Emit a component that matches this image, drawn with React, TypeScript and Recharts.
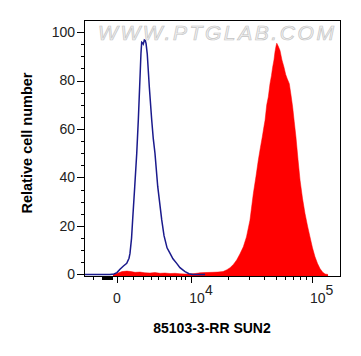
import React from "react";
import {
  ComposedChart,
  Area,
  Line,
  XAxis,
  YAxis,
  ReferenceArea,
  Label,
} from "recharts";

// x is in display units (biexponential-ish: 10^4 -> 4, 10^5 -> 5)
const xDomain = [3.111, 5.232];
const yDomain = [-0.62, 104.95];

// isotype control (blue outline)
const controlX = [
  3.111, 3.326, 3.36, 3.384, 3.409, 3.438, 3.465, 3.484, 3.492, 3.505, 3.514,
  3.531, 3.548, 3.561, 3.572, 3.583, 3.589, 3.596, 3.602, 3.611, 3.619, 3.625,
  3.635, 3.652, 3.672, 3.685, 3.699, 3.722, 3.755, 3.774, 3.799, 3.824, 3.848,
  3.879, 3.906, 3.948, 3.981, 4.014, 4.114,
];
const controlY = [
  0, 0, 0.2, 0.8, 2.2, 3.5, 4.6, 6.7, 8.7, 15, 22.5, 36, 50, 63.7, 77.4, 91.2,
  95.8, 95.5, 95, 96.7, 96.4, 95.3, 91, 77.4, 63.7, 56, 50, 36.2, 22.5, 16, 11,
  8.7, 6.5, 4.6, 2.8, 1.2, 0.3, 0, 0,
];

// SUN2 stained sample (red fill)
const sampleX = [
  3.351, 3.393, 3.426, 3.467, 3.5, 3.534, 3.575, 3.616, 3.658, 3.699, 3.741,
  3.782, 3.824, 3.865, 3.906, 3.948, 3.989, 4.031, 4.072, 4.114, 4.172, 4.221,
  4.263, 4.296, 4.321, 4.35, 4.376, 4.403, 4.431, 4.457, 4.486, 4.514, 4.536,
  4.555, 4.573, 4.588, 4.602, 4.611, 4.625, 4.638, 4.652, 4.664, 4.674, 4.685,
  4.693, 4.702, 4.708, 4.718, 4.735, 4.751, 4.768, 4.782, 4.795, 4.812, 4.826,
  4.84, 4.853, 4.867, 4.884, 4.901, 4.921, 4.942, 4.963, 4.983, 5.004, 5.025,
  5.046, 5.066, 5.087, 5.108, 5.133,
];
const sampleY = [
  0, 0.6, 1.2, 1.4, 1.2, 0.9, 1.0, 0.7, 0.6, 0.8, 0.5, 0.6, 0.4, 0.5, 0.3, 0.2,
  0.2, 0.4, 0.7, 0.8, 0.9, 1.0, 1.2, 2, 2.8, 4.2, 6, 8.5, 11.4, 15.5, 22.4,
  33.4, 40.5, 47.1, 52.5, 56.7, 61, 63.6, 70, 73.2, 78.7, 82, 85.5, 88.5, 91.7,
  94.2, 95.4, 94.4, 92.4, 88.5, 85.5, 82.5, 80.7, 78.7, 74, 69, 63, 56.7, 47.5,
  38.9, 31.5, 25.2, 20, 15.6, 11, 7.3, 4.5, 2.5, 1, 0.2, 0,
];

const xMajorTicks = [3.384, 4, 5];
const xMajorBase = ["0", "10", "10"];
const xMajorExp = ["", "4", "5"];
const xMinorTicks = [
  3.186, 3.26, 3.268, 3.277, 3.285, 3.293, 3.301, 3.31, 3.318, 3.327, 3.335,
  3.343, 3.434, 3.517, 3.6, 3.666, 3.724, 3.782, 3.824, 3.877, 3.918, 3.951,
  4.301, 4.477, 4.602, 4.699, 4.778, 4.845, 4.903, 4.954,
];
const yMajorTicks = [0, 20, 40, 60, 80, 100];
const yMinorTicks = [5, 10, 15, 25, 30, 35, 45, 50, 55, 65, 70, 75, 85, 90, 95];

const xLabel = "85103-3-RR SUN2";
const yLabel = "Relative cell number";
const watermark = "WWW.PTGLAB.COM";

const FONT = "'Liberation Sans', Arial, sans-serif";

const controlData = controlX.map((x, i) => ({ x, y: controlY[i] }));
const sampleData = sampleX.map((x, i) => ({ x, y: sampleY[i] }));

const XTick = ({ x, y, payload }: any) => {
  const i = xMajorTicks.indexOf(payload.value);
  const px = Math.round(x) + 0.5;
  if (i < 0) {
    return (
      <line x1={px} x2={px} y1={y} y2={y + 4} stroke="#000" shapeRendering="crispEdges" />
    );
  }
  const exp = xMajorExp[i];
  return (
    <g>
      <line x1={px} x2={px} y1={y} y2={y + 7} stroke="#000" shapeRendering="crispEdges" />
      {exp ? (
        <text x={x - 2} y={y + 27} fontSize={14} fontFamily={FONT} fill="#222">
          {xMajorBase[i]}
          <tspan dy={-8}>{exp}</tspan>
        </text>
      ) : (
        <text
          x={x}
          y={y + 27}
          textAnchor="middle"
          fontSize={14}
          fontFamily={FONT}
          fill="#222"
        >
          {xMajorBase[i]}
        </text>
      )}
    </g>
  );
};

const YTick = ({ x, y, payload }: any) => {
  const major = yMajorTicks.includes(payload.value);
  const py = Math.round(y) + 0.5;
  if (!major) {
    return (
      <line x1={x - 3} x2={x} y1={py} y2={py} stroke="#000" shapeRendering="crispEdges" />
    );
  }
  return (
    <g>
      <line x1={x - 7} x2={x} y1={py} y2={py} stroke="#000" shapeRendering="crispEdges" />
      <text
        x={x - 9}
        y={y}
        dy="0.355em"
        textAnchor="end"
        fontSize={14}
        fontFamily={FONT}
        fill="#222"
      >
        {payload.value}
      </text>
    </g>
  );
};

const XTitle = ({ viewBox }: any) => (
  <text
    x={viewBox.x + viewBox.width / 2}
    y={viewBox.y + 57}
    textAnchor="middle"
    fontSize={14}
    fontWeight="bold"
    fontFamily={FONT}
    fill="#000"
  >
    {xLabel}
  </text>
);

const YTitle = ({ viewBox }: any) => {
  const cx = viewBox.x + 32;
  const cy = viewBox.y + 123;
  return (
    <text
      x={cx}
      y={cy}
      transform={`rotate(-90, ${cx}, ${cy})`}
      textAnchor="middle"
      fontSize={14.5}
      fontWeight="bold"
      fontFamily={FONT}
      fill="#000"
    >
      {yLabel}
    </text>
  );
};

const Watermark = ({ viewBox }: any) => (
  <text
    x={viewBox.x + viewBox.width / 2 + 4}
    y={viewBox.y + 20}
    textAnchor="middle"
    fontSize={21}
    fontStyle="italic"
    fontFamily={FONT}
    fill="#f2f2f2"
    stroke="#c4c4c4"
    strokeWidth={0.7}
    textLength={236}
    lengthAdjust="spacing"
  >
    {watermark}
  </text>
);

export default function App() {
  return (
    <div style={{ position: "absolute", left: 0, top: 0, background: "#fff" }}>
      <ComposedChart
        width={361}
        height={356}
        margin={{ top: 20, right: 21, bottom: 0, left: 0 }}
      >
        <ReferenceArea
          x1={xDomain[0]}
          x2={xDomain[1]}
          y1={yDomain[0]}
          y2={yDomain[1]}
          fill="none"
          stroke="none"
          ifOverflow="visible"
        >
          <Label content={<Watermark />} />
        </ReferenceArea>
        <XAxis
          dataKey="x"
          type="number"
          domain={xDomain}
          allowDataOverflow
          ticks={[...xMinorTicks, ...xMajorTicks]}
          interval={0}
          height={80}
          tickSize={0}
          tickMargin={0}
          tickLine={false}
          axisLine={{ stroke: "#000", shapeRendering: "crispEdges" }}
          tick={<XTick />}
        >
          <Label content={<XTitle />} />
        </XAxis>
        <YAxis
          type="number"
          domain={yDomain}
          allowDataOverflow
          ticks={[...yMinorTicks, ...yMajorTicks]}
          interval={0}
          width={84}
          tickSize={0}
          tickMargin={0}
          tickLine={false}
          axisLine={{ stroke: "#000", shapeRendering: "crispEdges" }}
          tick={<YTick />}
        >
          <Label content={<YTitle />} />
        </YAxis>
        <Area
          data={sampleData}
          dataKey="y"
          type="linear"
          baseValue="dataMin"
          fill="#ff0000"
          fillOpacity={1}
          stroke="#ff0000"
          strokeWidth={0.5}
          isAnimationActive={false}
        />
        <Line
          data={controlData}
          dataKey="y"
          type="linear"
          stroke="#1a1a8c"
          strokeWidth={1.5}
          dot={false}
          isAnimationActive={false}
        />
        <ReferenceArea
          x1={xDomain[0]}
          x2={xDomain[1]}
          y1={yDomain[0]}
          y2={yDomain[1]}
          fill="none"
          stroke="#000"
          shapeRendering="crispEdges"
          ifOverflow="visible"
        />
      </ComposedChart>
    </div>
  );
}
